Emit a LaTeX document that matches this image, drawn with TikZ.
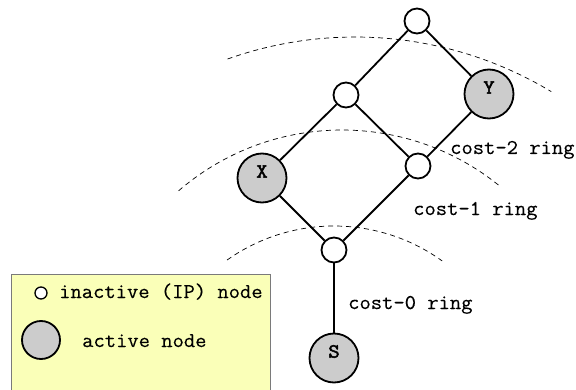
\documentclass[tikz,border=0pt]{standalone}
\usepackage{fontspec}
\setmonofont[FakeStretch=1.045,FakeBold=0.3]{Latin Modern Mono}
\newfontfamily\lblfont[FakeStretch=1.1,FakeBold=2.5]{Latin Modern Mono}
\definecolor{legfill}{HTML}{FAFFB8}
\definecolor{legdraw}{HTML}{7A7A7A}
\definecolor{actfill}{HTML}{CCCCCC}
\begin{document}
\begin{tikzpicture}[x=1pt,y=1pt,
  inact/.style={circle,draw=black,line width=1.8pt,fill=white,minimum size=25pt,inner sep=0pt},
  act/.style={circle,draw=black,line width=1.8pt,fill=actfill,minimum size=49pt,inner sep=0pt},
  lbl/.style={font=\lblfont\fontsize{20}{22}\selectfont,inner sep=0pt},
  txt/.style={font=\ttfamily\fontsize{21}{23}\selectfont,inner sep=0pt,anchor=base west},
  edge/.style={line width=1.8pt},
  ring/.style={line width=0.7pt,dash pattern=on 5pt off 4pt}]
\useasboundingbox (0,0) rectangle (576,389);
% rings
\draw[ring] (355,-28) ++(109.6:380pt) arc[start angle=109.6, end angle=58.9, radius=380pt];
\draw[ring] (342,9) ++(130.8:250pt) arc[start angle=130.8, end angle=50.5, radius=250pt];
\draw[ring] (334,-22) ++(125.3:185pt) arc[start angle=125.3, end angle=54.2, radius=185pt];
% nodes
\node[inact] (top) at (417,368) {};
\node[inact] (ml) at (346,294) {};
\node[act] (Y) at (489,295) {};
\node[inact] (mr) at (418,223) {};
\node[act] (X) at (262,211) {};
\node[inact] (bot) at (334,139) {};
\node[act] (S) at (334,31) {};
\node[lbl] at ([yshift=6.5pt]X.center) {X};
\node[lbl] at ([yshift=6.5pt]Y.center) {Y};
\node[lbl] at ([yshift=6.5pt]S.center) {S};
% edges
\draw[edge] (top) -- (ml);
\draw[edge] (top) -- (Y);
\draw[edge] (ml) -- (X);
\draw[edge] (ml) -- (mr);
\draw[edge] (Y) -- (mr);
\draw[edge] (X) -- (bot);
\draw[edge] (mr) -- (bot);
\draw[edge] (bot) -- (S);
% ring labels
\node[txt] (c2) at (450,235) {cost-2 ring};
\node[txt] (c1) at (413,174) {cost-1 ring};
\node[txt] (c0) at (348,80) {cost-0 ring};
% legend
\draw[draw=legdraw,fill=legfill,line width=1pt] (11,-3) rectangle (270,115);
\node[circle,draw=black,line width=1.3pt,fill=white,minimum size=12pt,inner sep=0pt] (li) at (41,96) {};
\node[txt] (lit) at (59,91) {inactive (IP) node};
\node[circle,draw=black,line width=1.8pt,fill=actfill,minimum size=38pt,inner sep=0pt] (la) at (41,49) {};
\node[txt] (lat) at (82,42) {active node};
\end{tikzpicture}
\end{document}
